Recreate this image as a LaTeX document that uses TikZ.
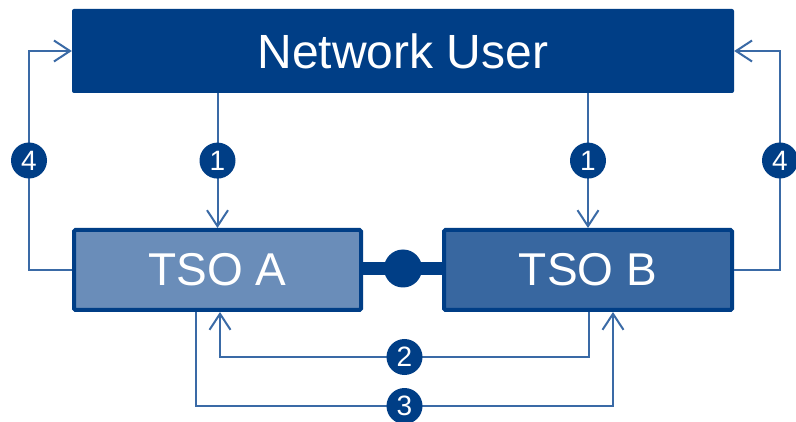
\documentclass[tikz,border=0pt]{standalone}
\usepackage{fontspec}
\setmainfont{Liberation Sans}
\usetikzlibrary{arrows.meta}
\definecolor{navy}{HTML}{003E86}
\definecolor{tsoalight}{HTML}{6A8DB9}
\definecolor{tsobmid}{HTML}{3867A0}
\definecolor{wire}{HTML}{3A6AA6}
\tikzset{
  userbox/.style={fill=navy, rounded corners=2pt, minimum width=662pt, minimum height=84pt,
    text=white, font=\fontsize{48}{50}\selectfont, inner sep=0pt},
  tsobox/.style={draw=navy, line width=4pt, rounded corners=1.5pt, minimum height=80pt,
    text=white, font=\fontsize{46}{50}\selectfont, inner sep=0pt},
  conn/.style={draw=wire, line width=2pt, -{Straight Barb[length=16pt,width=21pt,line width=2pt]}},
  num/.style={circle, fill=navy, minimum size=36pt, inner sep=0pt, text=white,
    font=\fontsize{28}{28}\selectfont},
  link/.style={draw=navy, line width=13pt},
  linkdot/.style={circle, fill=navy, minimum size=38pt, inner sep=0pt},
}
\begin{document}
\begin{tikzpicture}[x=1pt,y=-1pt]
\useasboundingbox (0,0) rectangle (796,422);
\fill[white] (0,0) rectangle (796,422);

% link between the two operators
\coordinate (lk1) at (360,268.5);
\coordinate (lk2) at (446,268.5);
\draw[link] (lk1) -- node[linkdot] (dot) {} (lk2);

% boxes
\node[userbox] (nu) at (403,51) {Network User};
\node[tsobox, fill=tsoalight, minimum width=287pt] (tsoa) at (217.5,270) {TSO A};
\node[tsobox, fill=tsobmid, minimum width=288pt] (tsob) at (588,270) {TSO B};

% step 1: user to each operator
\draw[conn] (nu.south -| tsoa) -- node[num] (n1a) {1} (tsoa.north);
\draw[conn] (nu.south -| tsob) -- node[num] (n1b) {1} (tsob.north);

% step 4: operators back to the user
\coordinate (l4) at (29,270);
\coordinate (r4) at (780,270);
\draw[conn] (tsoa.west) -- (l4) |- node[num,pos=0.25] (n4a) {4} (nu.west);
\draw[conn] (tsob.east) -- (r4) |- node[num,pos=0.25] (n4b) {4} (nu.east);

% step 2: TSO B to TSO A
\coordinate (b2) at (589,357);
\draw[conn] (b2 |- tsob.south) -- (b2) -| node[num,pos=0.25] (n2) {2} ([xshift=2.5pt]tsoa.south);

% step 3: TSO A to TSO B
\coordinate (a3) at (196,406);
\draw[conn] (a3 |- tsoa.south) -- (a3) -| node[num,pos=0.25] (n3) {3} ([xshift=25pt]tsob.south);
\end{tikzpicture}
\end{document}
